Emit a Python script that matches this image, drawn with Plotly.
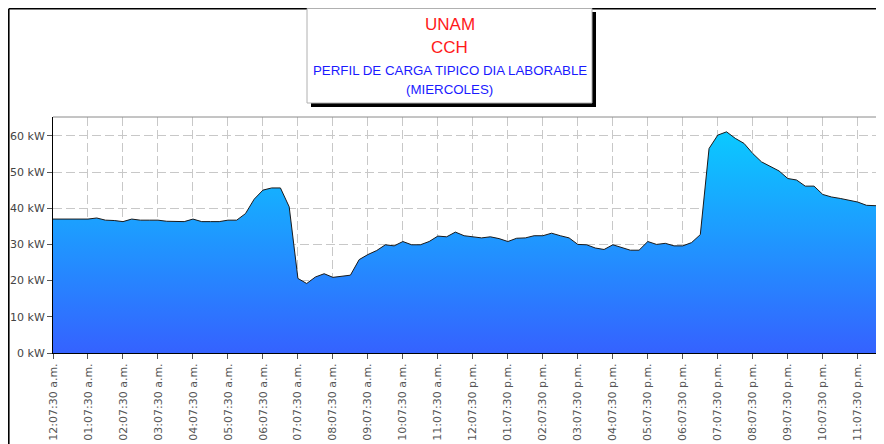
import plotly.graph_objects as go

# ---- data ----
hour_labels = ["12", "01", "02", "03", "04", "05", "06", "07", "08", "09", "10", "11"]
periods = ["a.m.", "p.m."]
minutes = ["07:30", "22:30", "37:30", "52:30"]
times = [f"{h}:{m} {p}" for p in periods for h in hour_labels for m in minutes]

load_kw = [
    37.0, 37.0, 37.0, 37.0, 37.0, 37.3, 36.7, 36.6, 36.3, 37.0, 36.7, 36.7,
    36.7, 36.4, 36.3, 36.3, 37.0, 36.3, 36.3, 36.3, 36.7, 36.7, 38.5, 42.5,
    45.0, 45.6, 45.6, 40.4, 20.6, 19.2, 21.0, 21.9, 20.9, 21.2, 21.5, 25.8,
    27.2, 28.3, 29.9, 29.6, 30.8, 29.9, 29.9, 30.8, 32.3, 32.1, 33.4, 32.4,
    32.1, 31.8, 32.1, 31.6, 30.8, 31.7, 31.8, 32.4, 32.4, 33.1, 32.4, 31.8,
    30.0, 29.9, 29.0, 28.6, 29.9, 29.1, 28.4, 28.4, 30.8, 30.0, 30.3, 29.6,
    29.6, 30.5, 32.7, 56.5, 60.2, 61.1, 59.3, 57.9, 55.1, 52.8, 51.6, 50.3,
    48.2, 47.8, 46.1, 46.1, 43.8, 43.1, 42.7, 42.2, 41.7, 40.8, 40.8, 40.6,
]
tick_times = times[::4]
y_ticks = [0, 10, 20, 30, 40, 50, 60]
y_tick_text = [f"{v} kW" for v in y_ticks]
title_lines = ["UNAM", "CCH", "PERFIL DE CARGA TIPICO DIA LABORABLE", "(MIERCOLES)"]
title_colors = ["#ff1a1a", "#ff1a1a", "#1a1aff", "#1a1aff"]
title_sizes = [17, 17, 13.3, 13.3]

# ---- geometry (pixels, page coordinates; page body adds an 8px offset) ----
OFF = 8
W, H = 884 - OFF, 444 - OFF
L, R, T, B = 53 - OFF, 884 - OFF, 117 - OFF, 353 - OFF


def px(xp):
    return (xp - OFF - L) / (R - L)


def py(yp):
    return (B - (yp - OFF)) / (B - T)


fig = go.Figure()
fig.add_trace(go.Scatter(
    x=times, y=load_kw, mode="lines",
    line=dict(color="#1a1a1a", width=1),
    fill="tozeroy",
    fillgradient=dict(type="vertical", start=0, stop=62,
                      colorscale=[[0, "#3562ff"], [1, "#0acbff"]]),
    hoverinfo="x+y",
    showlegend=False,
))

shapes = [
    # outer frame lines (as close to the page edge as the figure allows)
    dict(type="line", xref="paper", yref="paper", x0=px(OFF + 0.8), x1=px(884 + 5),
         y0=py(OFF + 0.8), y1=py(OFF + 0.8), line=dict(color="black", width=1.6)),
    dict(type="line", xref="paper", yref="paper", x0=px(OFF + 0.8), x1=px(OFF + 0.8),
         y0=py(OFF + 0.8), y1=py(444 + 5), line=dict(color="black", width=1.6)),
    # plot top border
    dict(type="line", xref="paper", yref="paper", x0=0, x1=1, y0=1, y1=1,
         line=dict(color="#8a8a8a", width=1)),
    # title box shadow and box
    dict(type="rect", xref="paper", yref="paper", x0=px(311), x1=px(596), y0=py(12), y1=py(107),
         fillcolor="black", line=dict(width=0)),
    dict(type="rect", xref="paper", yref="paper", x0=px(307), x1=px(592), y0=py(8.5), y1=py(103),
         fillcolor="white", line=dict(color="#b0b0b0", width=1)),
]

annotations = []
title_y_px = [25, 48, 70, 89]
for text, col, sz, yp in zip(title_lines, title_colors, title_sizes, title_y_px):
    annotations.append(dict(
        text=text, xref="paper", yref="paper", x=px(449.5), y=py(yp),
        xanchor="center", yanchor="middle", showarrow=False,
        font=dict(family="Liberation Sans, Arial, sans-serif", size=sz, color=col),
    ))

fig.update_layout(
    width=W, height=H,
    margin=dict(l=L, r=W - R, t=T, b=H - B, pad=0),
    paper_bgcolor="white", plot_bgcolor="white",
    shapes=shapes, annotations=annotations,
    font=dict(family="DejaVu Sans, sans-serif", size=11, color="#444"),
    xaxis=dict(
        type="category", range=[0, len(times) - 1],
        tickmode="array", tickvals=tick_times, ticktext=tick_times,
        tickangle=-90, ticks="outside", ticklen=5, tickcolor="#555",
        tickfont=dict(size=11, color="#555"),
        showline=True, linecolor="black", linewidth=1,
        showgrid=True, gridcolor="#c8c8c8", griddash="9px,4px", gridwidth=1,
        zeroline=False,
    ),
    yaxis=dict(
        range=[0, 65.2], tickmode="array", tickvals=y_ticks, ticktext=y_tick_text,
        ticks="outside", ticklen=5, tickcolor="#555",
        tickfont=dict(size=11, color="#444"),
        showline=True, linecolor="black", linewidth=1,
        showgrid=True, gridcolor="#c8c8c8", griddash="9px,4px", gridwidth=1,
        zeroline=False,
    ),
)

fig.write_html("out.html")
